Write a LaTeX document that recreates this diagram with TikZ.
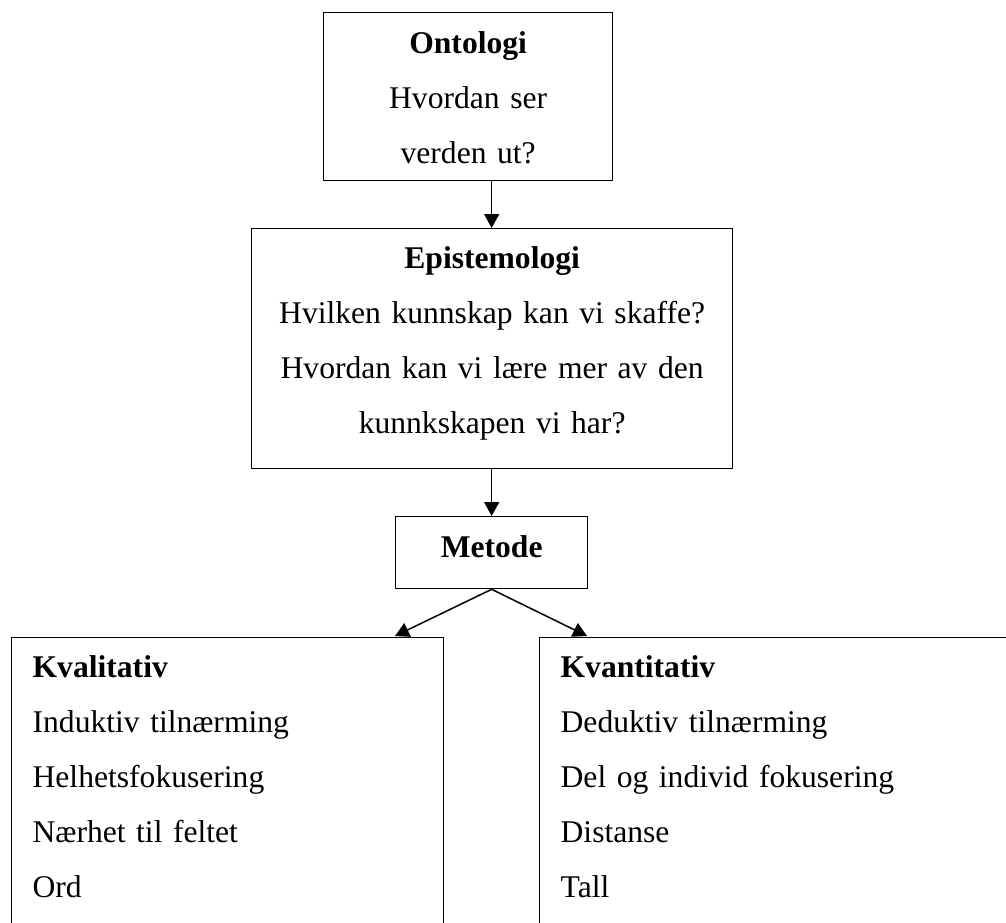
\documentclass[tikz,border=0pt]{standalone}
\usepackage{fontspec}
\setmainfont{Liberation Serif}
\usetikzlibrary{arrows.meta,backgrounds}

\begin{document}
\begin{tikzpicture}[x=0.5pt, y=-0.5pt,
  box/.style={draw, fill=white, line width=0.65pt, anchor=north west,
    inner xsep=0pt, inner ysep=0pt, font=\fontsize{15.8}{27.5}\selectfont},
  listbox/.style={box, inner xsep=10.5pt, align=left, text height=20pt, text depth=150pt},
  arr/.style={line width=0.75pt, -{Triangle[length=7pt, width=7.5pt]}}]
  \useasboundingbox (0,0) rectangle (1006,922);
  \clip (0,0) rectangle (1006,922);
  \node[box, text width=144.5pt, align=center, text height=20.5pt, text depth=63.5pt] (ont) at (323,12) {\textbf{Ontologi}\\Hvordan ser\\verden ut?};
  \node[box, text width=240.5pt, align=center, text height=20pt, text depth=100pt] (epi) at (251,228) {\textbf{Epistemologi}\\Hvilken kunnskap kan vi skaffe?\\Hvordan kan vi lære mer av den\\kunnkskapen vi har?};
  \node[box, text width=96pt, align=center, text height=20.5pt, text depth=15.5pt] (met) at (395,516) {\textbf{Metode}};
  \node[listbox, text width=195pt] (kval) at (11,637) {\textbf{Kvalitativ}\\Induktiv tilnærming\\Helhetsfokusering\\Nærhet til feltet\\Ord};
  \node[listbox, text width=279pt] (kvan) at (539,637) {\textbf{Kvantitativ}\\Deduktiv tilnærming\\Del og individ fokusering\\Distanse\\Tall};
  \coordinate (kvaltip) at (395,636);
  \coordinate (kvantip) at (587,636);
  \begin{scope}[on background layer]
    \draw[arr] (ont.south -| met.north) -- (epi.north -| met.north);
    \draw[arr] (epi.south -| met.north) -- (met.north);
    \draw[arr] (met.south) -- (kvaltip);
    \draw[arr] (met.south) -- (kvantip);
  \end{scope}
\end{tikzpicture}
\end{document}
